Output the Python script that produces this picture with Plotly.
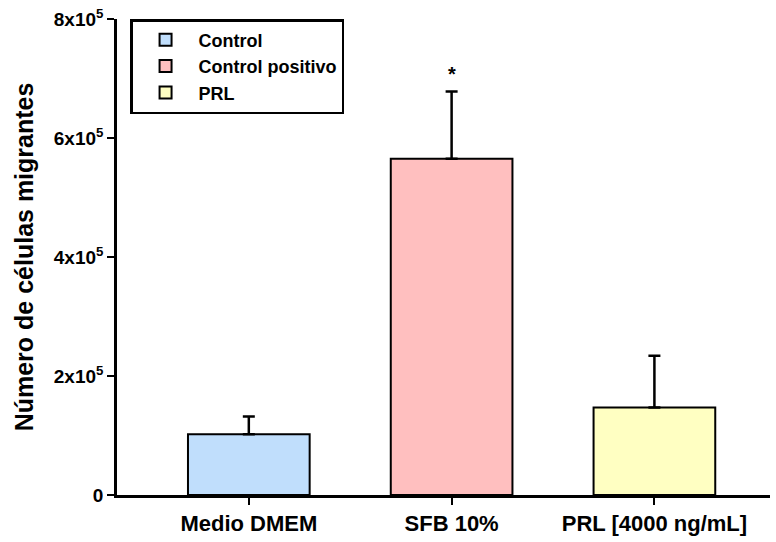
import plotly.graph_objects as go

categories = ["Medio DMEM", "SFB 10%", "PRL [4000 ng/mL]"]
series_names = ["Control", "Control positivo", "PRL"]
means = [1.02e5, 5.65e5, 1.47e5]
errors = [0.30e5, 1.13e5, 0.87e5]
colors = ["#C0DEFC", "#FFBFBF", "#FFFFC2"]
sig_marks = ["", "*", ""]
ytick_vals = [0, 2e5, 4e5, 6e5, 8e5]
ytick_text = ["0", "2x10<sup>5</sup>", "4x10<sup>5</sup>", "6x10<sup>5</sup>", "8x10<sup>5</sup>"]

FONT = "Liberation Sans, Arial, sans-serif"

fig = go.Figure()
for i, (cat, name) in enumerate(zip(categories, series_names)):
    fig.add_trace(go.Bar(
        x=[i], y=[means[i]], name="<b>" + name + "</b>", width=0.6,
        marker=dict(color=colors[i], line=dict(color="black", width=2)),
        error_y=dict(type="data", array=[errors[i]], arrayminus=[0], symmetric=False,
                     color="black", thickness=2.5, width=6),
    ))

for i, s in enumerate(sig_marks):
    if s:
        fig.add_annotation(x=i, y=means[i] + errors[i], text="<b>" + s + "</b>", showarrow=False,
                           yshift=18, font=dict(family=FONT, size=20, color="black"))

fig.update_layout(
    width=776, height=542,
    margin=dict(l=117, r=6, t=16, b=46),
    plot_bgcolor="white", paper_bgcolor="white",
    barmode="overlay",
    showlegend=True,
    legend=dict(x=0.02, y=1.0, xanchor="left", yanchor="top",
                bordercolor="black", borderwidth=2.5, bgcolor="white",
                font=dict(family=FONT, size=18, color="black"),
                itemwidth=56, tracegroupgap=0),
    font=dict(family=FONT, color="black"),
)
fig.update_xaxes(
    range=[-0.65, 2.57], tickvals=[0, 1, 2], ticktext=["<b>" + c + "</b>" for c in categories],
    showline=True, linecolor="black", linewidth=2.5,
    ticks="outside", ticklen=7, tickwidth=2, tickcolor="black",
    tickfont=dict(family=FONT, size=22, color="black"),
    showgrid=False, zeroline=False,
)
fig.update_yaxes(
    range=[0, 8e5], tickvals=ytick_vals, ticktext=["<b>" + t + "</b>" for t in ytick_text],
    showline=True, linecolor="black", linewidth=2.5,
    ticks="outside", ticklen=7, tickwidth=2, tickcolor="black",
    tickfont=dict(family=FONT, size=19, color="black", weight="bold"),
    showgrid=False, zeroline=False,
    title=dict(text="<b>Número de células migrantes</b>", standoff=14,
               font=dict(family=FONT, size=25, color="black")),
)

fig.write_html("out.html")
